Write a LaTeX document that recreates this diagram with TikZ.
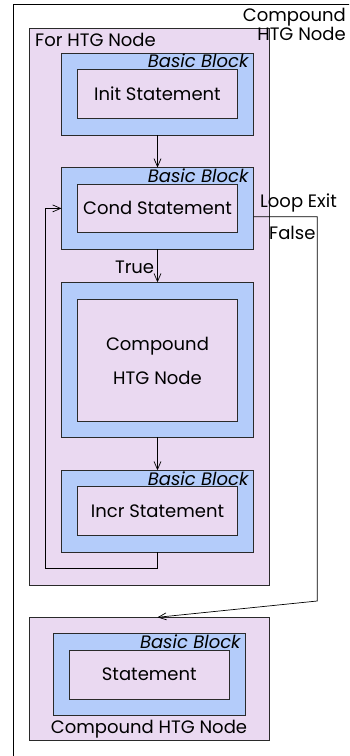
\documentclass[tikz,border=0pt]{standalone}
\usepackage{fontspec}
\setmainfont{Poppins}
\usetikzlibrary{arrows.meta,calc}
\definecolor{htgfill}{HTML}{EAD9F1}
\definecolor{bbfill}{HTML}{B4CCFA}
\definecolor{edge}{HTML}{2A2A2A}
\begin{document}
\begin{tikzpicture}[x=1bp,y=-1bp,
  box/.style={draw=edge,line width=0.8bp,inner sep=0pt,outer sep=0pt},
  htg/.style={box,fill=htgfill},
  bb/.style={box,fill=bbfill},
  stmt/.style={box,fill=htgfill,font=\fontsize{18bp}{17bp}\selectfont,align=center},
  lbl/.style={inner sep=0pt,font=\fontsize{18bp}{17bp}\selectfont},
  bblbl/.style={inner sep=0pt,font=\fontsize{18bp}{17bp}\selectfont\itshape,anchor=base east},
  flow/.style={draw=black,line width=0.7bp,-{Straight Barb[length=8bp,width=7bp]}}]
\useasboundingbox (0,0) rectangle (349,756);
\begin{scope}
  \clip (0,0) rectangle (349,756);
  % enclosing compound node, running off the page
  \draw[line width=0.8bp] (13.7,4) rectangle (420,820);
\end{scope}

% for loop node
\node[htg,minimum width=240bp,minimum height=556.5bp] (forn) at (149.5,306.75) {};
\node[lbl,anchor=north west] (forlbl) at (35,33) {For HTG Node};
\node[lbl,align=right,anchor=north east] (outerlbl) at (346,8) {Compound\\HTG Node};

% init
\node[bb,minimum width=192bp,minimum height=82bp] (b1) at (157.5,94) {};
\node[stmt,minimum width=160bp,minimum height=48.5bp] (s1) at (157.5,93.75) {Init Statement};
\node[bblbl] (l1) at ($(b1.north east)+(-5,15)$) {Basic Block};

% condition
\node[bb,minimum width=192bp,minimum height=81.8bp] (b2) at (157.5,208.4) {};
\node[stmt,minimum width=160bp,minimum height=48.7bp] (s2) at (157.5,208.35) {Cond Statement};
\node[bblbl] (l2) at ($(b2.north east)+(-5,15)$) {Basic Block};

% body
\node[bb,minimum width=192bp,minimum height=155bp] (b3) at (157.5,359.8) {};
\node[stmt,minimum width=160bp,minimum height=122.7bp] (s3) at (157.5,360.5) {Compound\\[15bp]HTG Node};

% increment
\node[bb,minimum width=192bp,minimum height=82bp] (b4) at (157.5,511.3) {};
\node[stmt,minimum width=160bp,minimum height=49bp] (s4) at (157.5,511.2) {Incr Statement};
\node[bblbl] (l4) at ($(b4.north east)+(-5,15)$) {Basic Block};

% following compound node
\node[htg,minimum width=240bp,minimum height=122.7bp] (c) at (149.5,678.65) {};
\node[bb,minimum width=192.4bp,minimum height=82.4bp] (b5) at (149.5,674.5) {};
\node[stmt,minimum width=160bp,minimum height=49bp] (s5) at (149.3,674.5) {Statement};
\node[bblbl] (l5) at ($(b5.north east)+(-5,15)$) {Basic Block};
\node[lbl] (clbl) at (149,729) {Compound HTG Node};

% control flow
\draw[flow] (b1.south) -- (b2.north);
\draw[flow] (b2.south) -- node[lbl,anchor=east,pos=0.55,xshift=-3bp] (truelbl) {True} (b3.north);
\draw[flow] (b3.south) -- (b4.north);
\coordinate (back) at (45,568.3);
\draw[flow] (b4.south) |- (back) |- (b2.west);
\coordinate (exitA) at ($(b2.east)+(0,8.3)$);
\coordinate (exitB) at (317.3,601);
\coordinate (entry) at ($(c.north)+(8,0)$);
\draw[flow] (exitA) -| (exitB) -- (entry);
\node[lbl,anchor=west] (exitlbl) at (260,203) {Loop Exit};
\node[lbl,anchor=west] (falselbl) at (269,233) {False};
\end{tikzpicture}
\end{document}
